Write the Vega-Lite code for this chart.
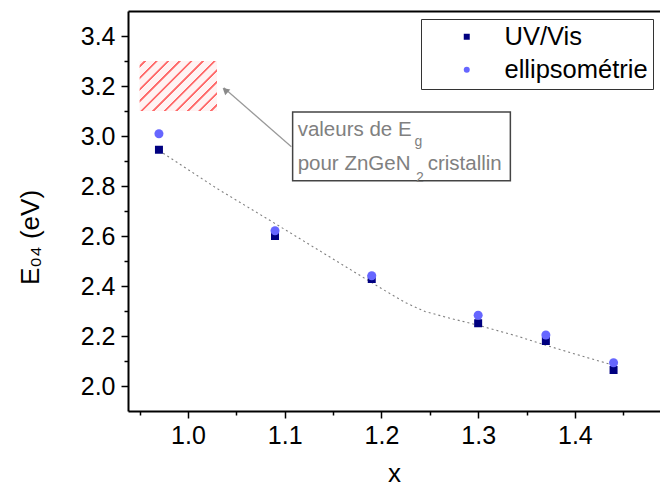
{
  "$schema": "https://vega.github.io/schema/vega-lite/v6.json",
  "width": 532,
  "height": 400,
  "autosize": {"type": "none"},
  "padding": {"left": 128, "top": 11, "right": 0, "bottom": 76},
  "background": "white",
  "config": {
    "view": {"stroke": null},
    "font": "Liberation Sans",
    "axis": {
      "grid": false,
      "labelFont": "Liberation Sans",
      "labelFontSize": 25,
      "labelColor": "black",
      "tickColor": "black",
      "domainColor": "black",
      "domainWidth": 2,
      "tickWidth": 1.5,
      "titleFont": "Liberation Sans",
      "titleFontWeight": "normal",
      "titleColor": "black",
      "titleFontSize": 26
    }
  },
  "datasets": {
    "points": [
      {"x": 0.97, "y": 2.945, "series": "UV/Vis"},
      {"x": 1.09, "y": 2.600, "series": "UV/Vis"},
      {"x": 1.19, "y": 2.428, "series": "UV/Vis"},
      {"x": 1.30, "y": 2.251, "series": "UV/Vis"},
      {"x": 1.37, "y": 2.180, "series": "UV/Vis"},
      {"x": 1.44, "y": 2.064, "series": "UV/Vis"},
      {"x": 0.97, "y": 3.009, "series": "ellipsométrie"},
      {"x": 1.09, "y": 2.621, "series": "ellipsométrie"},
      {"x": 1.19, "y": 2.441, "series": "ellipsométrie"},
      {"x": 1.30, "y": 2.283, "series": "ellipsométrie"},
      {"x": 1.37, "y": 2.204, "series": "ellipsométrie"},
      {"x": 1.44, "y": 2.093, "series": "ellipsométrie"}
    ],
    "fit": [
      {"x": 0.97, "y": 2.942},
      {"x": 1.03, "y": 2.790},
      {"x": 1.09, "y": 2.650},
      {"x": 1.15, "y": 2.508},
      {"x": 1.20, "y": 2.390},
      {"x": 1.225, "y": 2.333},
      {"x": 1.245, "y": 2.298},
      {"x": 1.27, "y": 2.272},
      {"x": 1.30, "y": 2.243},
      {"x": 1.34, "y": 2.200},
      {"x": 1.37, "y": 2.163},
      {"x": 1.40, "y": 2.128},
      {"x": 1.44, "y": 2.083}
    ],
    "gap": [{"x": 0.95, "x2": 1.03, "y": 3.1, "y2": 3.3}],
    "box": [{"x": 1.1082, "x2": 1.3333, "y": 2.821, "y2": 3.096}],
    "arrow": [{"x": 1.1069, "y": 2.957}, {"x": 1.037, "y": 3.193}],
    "arrowhead": [{"x": 1.0385, "y": 3.183}],
    "notes": [
      {"x": 1.1134, "y": 2.999, "text": "valeurs de E"},
      {"x": 1.1134, "y": 2.865, "text": "pour ZnGeN"},
      {"x": 1.2478, "y": 2.865, "text": "cristallin"}
    ],
    "subs": [
      {"x": 1.2341, "y": 2.962, "text": "g"},
      {"x": 1.2357, "y": 2.816, "text": "2"}
    ]
  },
  "layer": [
    {
      "data": {"name": "gap"},
      "mark": {
        "type": "rect",
        "fill": {
          "gradient": "linear",
          "x1": 0, "y1": 0, "x2": 1.1616, "y2": 0.7504,
          "stops": [
            {"offset": 0, "color": "#fff3f3"},
            {"offset": 0.030, "color": "#fff3f3"}, {"offset": 0.036, "color": "#ff6a6a"}, {"offset": 0.050, "color": "#ff6a6a"}, {"offset": 0.056, "color": "#fff3f3"},
            {"offset": 0.121, "color": "#fff3f3"}, {"offset": 0.127, "color": "#ff6a6a"}, {"offset": 0.141, "color": "#ff6a6a"}, {"offset": 0.147, "color": "#fff3f3"},
            {"offset": 0.212, "color": "#fff3f3"}, {"offset": 0.218, "color": "#ff6a6a"}, {"offset": 0.232, "color": "#ff6a6a"}, {"offset": 0.238, "color": "#fff3f3"},
            {"offset": 0.303, "color": "#fff3f3"}, {"offset": 0.309, "color": "#ff6a6a"}, {"offset": 0.323, "color": "#ff6a6a"}, {"offset": 0.329, "color": "#fff3f3"},
            {"offset": 0.394, "color": "#fff3f3"}, {"offset": 0.400, "color": "#ff6a6a"}, {"offset": 0.414, "color": "#ff6a6a"}, {"offset": 0.420, "color": "#fff3f3"},
            {"offset": 0.485, "color": "#fff3f3"}, {"offset": 0.491, "color": "#ff6a6a"}, {"offset": 0.505, "color": "#ff6a6a"}, {"offset": 0.511, "color": "#fff3f3"},
            {"offset": 0.576, "color": "#fff3f3"}, {"offset": 0.582, "color": "#ff6a6a"}, {"offset": 0.596, "color": "#ff6a6a"}, {"offset": 0.602, "color": "#fff3f3"},
            {"offset": 0.667, "color": "#fff3f3"}, {"offset": 0.673, "color": "#ff6a6a"}, {"offset": 0.687, "color": "#ff6a6a"}, {"offset": 0.693, "color": "#fff3f3"},
            {"offset": 0.758, "color": "#fff3f3"}, {"offset": 0.764, "color": "#ff6a6a"}, {"offset": 0.778, "color": "#ff6a6a"}, {"offset": 0.784, "color": "#fff3f3"},
            {"offset": 0.848, "color": "#fff3f3"}, {"offset": 0.854, "color": "#ff6a6a"}, {"offset": 0.868, "color": "#ff6a6a"}, {"offset": 0.874, "color": "#fff3f3"},
            {"offset": 0.939, "color": "#fff3f3"}, {"offset": 0.945, "color": "#ff6a6a"}, {"offset": 0.959, "color": "#ff6a6a"}, {"offset": 0.965, "color": "#fff3f3"},
            {"offset": 1, "color": "#fff3f3"}
          ]
        }
      },
      "encoding": {
        "x": {"field": "x", "type": "quantitative", "scale": {"domain": [0.938, 1.488], "nice": false, "zero": false}, "axis": null},
        "x2": {"field": "x2"},
        "y": {"field": "y", "type": "quantitative", "scale": {"domain": [1.9, 3.5], "nice": false, "zero": false}, "axis": null},
        "y2": {"field": "y2"}
      }
    },
    {
      "data": {"name": "box"},
      "mark": {"type": "rect", "fill": "white", "stroke": "#444444", "strokeWidth": 1.5},
      "encoding": {
        "x": {"field": "x", "type": "quantitative", "scale": {"domain": [0.938, 1.488], "nice": false, "zero": false},
              "axis": {"orient": "top", "labels": false, "ticks": false, "domain": true, "title": null}},
        "x2": {"field": "x2"},
        "y": {"field": "y", "type": "quantitative", "scale": {"domain": [1.9, 3.5], "nice": false, "zero": false}, "axis": null},
        "y2": {"field": "y2"}
      }
    },
    {
      "data": {"name": "arrow"},
      "mark": {"type": "line", "color": "#999999", "strokeWidth": 1.2},
      "encoding": {
        "x": {"field": "x", "type": "quantitative", "scale": {"domain": [0.938, 1.488], "nice": false, "zero": false}, "axis": null},
        "y": {"field": "y", "type": "quantitative", "scale": {"domain": [1.9, 3.5], "nice": false, "zero": false}, "axis": null}
      }
    },
    {
      "data": {"name": "arrowhead"},
      "mark": {"type": "point", "shape": "triangle-up", "filled": true, "color": "#8a8a8a", "size": 60, "angle": 311, "opacity": 1},
      "encoding": {
        "x": {"field": "x", "type": "quantitative", "scale": {"domain": [0.938, 1.488], "nice": false, "zero": false}, "axis": null},
        "y": {"field": "y", "type": "quantitative", "scale": {"domain": [1.9, 3.5], "nice": false, "zero": false}, "axis": null}
      }
    },
    {
      "data": {"name": "fit"},
      "mark": {"type": "line", "color": "#808080", "strokeWidth": 1.1, "strokeDash": [2, 3]},
      "encoding": {
        "x": {"field": "x", "type": "quantitative", "scale": {"domain": [0.938, 1.488], "nice": false, "zero": false},
              "axis": {"orient": "bottom", "values": [0.95, 1.05, 1.15, 1.25, 1.35, 1.45], "labels": false, "domain": false, "tickSize": 4, "title": null}},
        "y": {"field": "y", "type": "quantitative", "scale": {"domain": [1.9, 3.5], "nice": false, "zero": false},
              "axis": {"orient": "left", "values": [2.1, 2.3, 2.5, 2.7, 2.9, 3.1, 3.3], "labels": false, "domain": false, "tickSize": 4, "title": null}}
      }
    },
    {
      "data": {"name": "points"},
      "transform": [{"filter": "datum.series === 'UV/Vis'"}],
      "mark": {"type": "point", "filled": true, "size": 64, "opacity": 1},
      "encoding": {
        "x": {"field": "x", "type": "quantitative", "scale": {"domain": [0.938, 1.488], "nice": false, "zero": false},
              "axis": {"orient": "bottom", "values": [1.0, 1.1, 1.2, 1.3, 1.4], "format": ".1f", "tickSize": 7, "labelPadding": 5, "title": "x", "titleBaseline": "alphabetic", "titleY": 70, "titlePadding": 0}},
        "y": {"field": "y", "type": "quantitative", "scale": {"domain": [1.9, 3.5], "nice": false, "zero": false},
              "axis": {"orient": "left", "values": [2.0, 2.2, 2.4, 2.6, 2.8, 3.0, 3.2, 3.4], "format": ".1f", "tickSize": 7, "labelPadding": 6, "title": "E₀₄ (eV)", "titleBaseline": "middle", "titleX": -98, "titleY": 226, "titleAngle": -90}},
        "color": {"field": "series", "type": "nominal", "scale": {"domain": ["UV/Vis", "ellipsométrie"], "range": ["#000080", "#6666ff"]},
                  "legend": {"orient": "none", "legendX": 293, "legendY": 8, "title": null, "labelFontSize": 25.5, "labelFont": "Liberation Sans", "labelColor": "black",
                             "symbolSize": 36, "symbolStrokeWidth": 0, "padding": 5, "rowPadding": 6, "symbolOffset": 28, "labelOffset": 25,
                             "strokeColor": "#333333", "fillColor": "white"}},
        "shape": {"field": "series", "type": "nominal", "scale": {"domain": ["UV/Vis", "ellipsométrie"], "range": ["square", "circle"]}}
      }
    },
    {
      "data": {"name": "points"},
      "transform": [{"filter": "datum.series === 'ellipsométrie'"}],
      "mark": {"type": "point", "filled": true, "size": 81, "opacity": 1},
      "encoding": {
        "x": {"field": "x", "type": "quantitative", "scale": {"domain": [0.938, 1.488], "nice": false, "zero": false}, "axis": null},
        "y": {"field": "y", "type": "quantitative", "scale": {"domain": [1.9, 3.5], "nice": false, "zero": false}, "axis": null},
        "color": {"field": "series", "type": "nominal", "scale": {"domain": ["UV/Vis", "ellipsométrie"], "range": ["#000080", "#6666ff"]}},
        "shape": {"field": "series", "type": "nominal", "scale": {"domain": ["UV/Vis", "ellipsométrie"], "range": ["square", "circle"]}}
      }
    },
    {
      "data": {"name": "notes"},
      "mark": {"type": "text", "align": "left", "baseline": "alphabetic", "fontSize": 20.5, "font": "Liberation Sans", "color": "#808080"},
      "encoding": {
        "x": {"field": "x", "type": "quantitative", "scale": {"domain": [0.938, 1.488], "nice": false, "zero": false}, "axis": null},
        "y": {"field": "y", "type": "quantitative", "scale": {"domain": [1.9, 3.5], "nice": false, "zero": false}, "axis": null},
        "text": {"field": "text"}
      }
    },
    {
      "data": {"name": "subs"},
      "mark": {"type": "text", "align": "left", "baseline": "alphabetic", "fontSize": 14, "font": "Liberation Sans", "color": "#808080"},
      "encoding": {
        "x": {"field": "x", "type": "quantitative", "scale": {"domain": [0.938, 1.488], "nice": false, "zero": false}, "axis": null},
        "y": {"field": "y", "type": "quantitative", "scale": {"domain": [1.9, 3.5], "nice": false, "zero": false}, "axis": null},
        "text": {"field": "text"}
      }
    }
  ],
  "resolve": {"axis": {"x": "independent", "y": "independent"}}
}
